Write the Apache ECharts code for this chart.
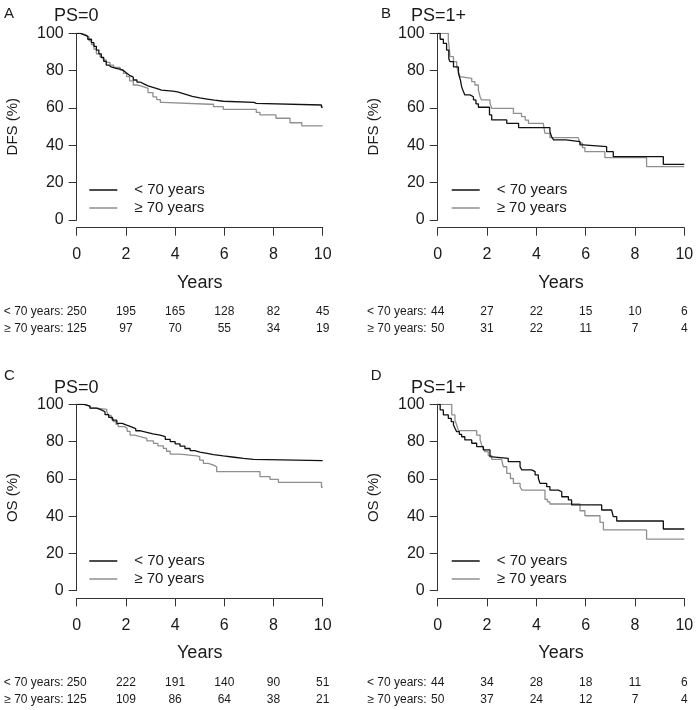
<!DOCTYPE html>
<html>
<head>
<meta charset="utf-8">
<script src="https://cdn.jsdelivr.net/npm/echarts@6/dist/echarts.min.js"></script>
<style>
html,body{margin:0;padding:0;background:#fff;}
#chart{width:700px;height:710px;}
</style>
</head>
<body>
<div id="chart"></div>
<script>
// ---------- DATA ----------
const xTicks = [0, 2, 4, 6, 8, 10];
const groupNames = ['< 70 years', '≥ 70 years'];
const riskRowLabels = ['< 70 years:', '≥ 70 years:'];

// Panel A: DFS, PS=0  ([years, survival %] — survival drops to value at that time)
const dfsPs0Under70 = [[0,100],[0.15,99.2],[0.3,98.4],[0.45,96.8],[0.6,95],[0.7,93],[0.8,91],[0.9,89],[1.0,87],[1.1,85],[1.2,83],[1.3,82],[1.4,81.2],[1.6,80.8],[1.76,80.4],[1.85,79.5],[1.95,78.5],[2.05,77.5],[2.15,76.5],[2.3,75],[2.45,73.8],[2.6,72.8],[2.75,71.8],[2.9,71],[3.1,70.2],[3.3,69.6],[3.45,69],[3.9,68.6],[4.1,67.8],[4.3,67],[4.5,66.2],[4.7,65.4],[5.0,64.8],[5.3,64.2],[5.6,63.6],[5.96,63],[7.2,62.5],[7.3,61.6],[9.95,60.4],[10,60.4]];
const dfsPs0Over70 = [[0,100],[0.2,99],[0.4,98],[0.5,96],[0.6,94],[0.7,91.5],[0.8,89],[0.95,87.3],[1.08,85.7],[1.2,84.4],[1.35,83],[1.5,81.8],[1.76,80.4],[1.9,78.5],[2.03,76.8],[2.15,74.5],[2.3,72.3],[2.5,71.4],[2.7,70.5],[2.9,68.2],[3.1,66],[3.25,64.5],[3.4,63],[3.5,62],[5.4,62],[5.56,60.7],[5.96,59.3],[7.3,57.6],[7.45,56.3],[8.1,54.5],[8.67,52.1],[9.15,50.4],[10,50.4]];
const dfsPs0Risk = [[250,195,165,128,82,45],[125,97,70,55,34,19]];

// Panel B: DFS, PS=1+
const dfsPs1Under70 = [[0,100],[0.1,96.8],[0.23,94.6],[0.36,91],[0.45,86.4],[0.5,84.8],[0.64,82],[0.84,78.6],[0.92,75],[0.97,71.4],[1.05,68.5],[1.1,67],[1.31,66],[1.45,64.3],[1.55,62.2],[1.65,60.4],[2.1,56.3],[2.19,53.6],[2.8,51.8],[3.28,49.5],[4.55,47.3],[4.62,44.6],[4.7,42.9],[5.2,42],[5.77,40.2],[5.9,39.3],[6.85,36.6],[7.12,33.9],[9.15,29.8],[10,29.8]];
const dfsPs1Over70 = [[0,100],[0.43,96.4],[0.47,92],[0.5,87.5],[0.64,84.8],[0.77,82],[0.85,79],[0.91,76.8],[0.97,75.9],[1.38,74.1],[1.51,72.3],[1.65,69.6],[1.72,66],[1.78,64.3],[2.12,62.5],[2.19,59.8],[3.07,57.1],[3.4,55.4],[3.55,53.5],[3.68,51.8],[4.28,50.9],[4.35,46.4],[4.55,44.1],[5.7,43.2],[5.77,41.1],[5.87,38.8],[5.97,36.6],[6.78,33.4],[8.47,28.6],[10,28.6]];
const dfsPs1Risk = [[44,27,22,15,10,6],[50,31,22,11,7,4]];

// Panel C: OS, PS=0
const osPs0Under70 = [[0,100],[0.3,99],[0.54,97.9],[0.81,97],[1.0,96],[1.15,94.5],[1.3,93],[1.45,91.5],[1.63,89.8],[1.85,88.8],[2.03,88],[2.2,87],[2.4,85.8],[2.6,85],[2.85,84.1],[3.1,83.5],[3.39,82.6],[3.6,81.2],[3.8,80],[4.0,78.8],[4.2,77.6],[4.4,76.3],[4.61,75.1],[4.8,74.3],[5.01,73.7],[5.3,73],[5.56,72.3],[5.96,71.6],[6.4,71],[6.78,70.5],[7.18,69.8],[10,69.8]];
const osPs0Over70 = [[0,100],[0.3,99],[0.54,97.9],[0.81,97.3],[1.22,96],[1.3,94],[1.4,92.3],[1.49,90.7],[1.6,89.2],[1.69,88],[1.96,87.1],[2.05,85.5],[2.17,83.5],[2.35,82.6],[2.57,81.7],[2.85,80.4],[3.12,79],[3.3,77.7],[3.52,76.4],[3.65,74.8],[3.8,73.3],[4.2,72.3],[4.88,71.9],[5.0,70],[5.15,68.3],[5.35,67.4],[5.56,66.5],[5.69,63.9],[7.32,63.9],[7.45,61.2],[7.86,59.7],[8.2,58.1],[9.95,55.5],[10,55.5]];
const osPs0Risk = [[250,222,191,140,90,51],[125,109,86,64,38,21]];

// Panel D: OS, PS=1+
const osPs1Under70 = [[0,100],[0.1,97],[0.23,94.3],[0.43,92.5],[0.55,90.7],[0.64,88.9],[0.7,87.1],[0.77,85.3],[0.88,83.9],[0.97,82.6],[1.1,80.9],[1.38,79.1],[1.58,77.3],[1.85,75.5],[2.12,71.9],[2.19,71],[2.86,69.2],[3.34,66.5],[3.41,64.8],[3.81,63.9],[3.95,62.1],[4.08,60.3],[4.15,57.6],[4.42,55.8],[4.55,54],[4.89,53.1],[5.03,50.4],[5.3,48.7],[5.43,46],[6.65,43.3],[7.05,42.4],[7.12,39.7],[7.26,37.4],[9.15,33.1],[10,33.1]];
const osPs1Over70 = [[0,100],[0.57,94.3],[0.7,91.5],[0.77,88.9],[0.84,85.9],[1.58,83.5],[1.72,80.9],[1.78,78.2],[1.85,76.4],[1.92,74.6],[2.05,72.5],[2.19,70.5],[2.59,70.1],[2.66,66.5],[2.8,62.9],[2.95,60.2],[3.07,57.6],[3.34,55.8],[3.41,54],[4.35,49],[4.45,47.7],[4.55,46.5],[5.77,42.9],[5.97,40.2],[6.58,36.7],[6.72,32.6],[8.47,27.7],[10,27.7]];
const osPs1Risk = [[44,34,28,18,11,6],[50,37,24,12,7,4]];

const panelLetters = ['A', 'B', 'C', 'D'];
const panelTitles = ['PS=0', 'PS=1+', 'PS=0', 'PS=1+'];
const yTitles = ['DFS (%)', 'DFS (%)', 'OS (%)', 'OS (%)'];
const xTitle = 'Years';

// ---------- LAYOUT / STYLE ----------
const FONT = "'Liberation Sans', Arial, Helvetica, sans-serif";
const TXT = '#1a1a1a';
const AXIS = '#333333';
const COLORS = ['#111111', '#8f8f8f'];

const panels = [
  { grid: {left: 76.7, top: 33.3, width: 246, height: 186.7}, curves: [dfsPs0Under70, dfsPs0Over70], risk: dfsPs0Risk,
    letter: {left: 4, top: 6}, title: {left: 54, top: 7}, legend: {left: 89.3, top: 181}, rowRight: 63.5 },
  { grid: {left: 437.7, top: 33.3, width: 246.6, height: 186.7}, curves: [dfsPs1Under70, dfsPs1Over70], risk: dfsPs1Risk,
    letter: {left: 381, top: 6}, title: {left: 411, top: 7}, legend: {left: 451.7, top: 181}, rowRight: 426.7 },
  { grid: {left: 76.7, top: 404.3, width: 246, height: 186.4}, curves: [osPs0Under70, osPs0Over70], risk: osPs0Risk,
    letter: {left: 4, top: 368}, title: {left: 54, top: 379.5}, legend: {left: 89.3, top: 552}, rowRight: 63.5 },
  { grid: {left: 437.7, top: 404.3, width: 246.6, height: 186.4}, curves: [osPs1Under70, osPs1Over70], risk: osPs1Risk,
    letter: {left: 370.7, top: 368}, title: {left: 411, top: 379.5}, legend: {left: 451.7, top: 552}, rowRight: 426.7 }
];

const AXIS_OFFSET = 7.7;
const ROW_OFFSETS = [84, 101.3];

const grid = [], xAxis = [], yAxis = [], series = [], title = [], legend = [], graphic = [];

// main plot grids (indices 0..3)
panels.forEach((p, i) => {
  grid.push(Object.assign({containLabel: false, outerBoundsMode: 'none'}, p.grid));
  xAxis.push({
    gridIndex: i, type: 'value', min: 0, max: 10, interval: 2, offset: AXIS_OFFSET, position: 'bottom',
    axisLine: {show: true, onZero: false, lineStyle: {color: AXIS, width: 1}},
    axisTick: {show: true, length: 8, lineStyle: {color: AXIS, width: 1}},
    axisLabel: {fontSize: 16, color: TXT, fontFamily: FONT, margin: 19, showMinLabel: true, showMaxLabel: true},
    splitLine: {show: false},
    name: xTitle, nameLocation: 'middle', nameGap: 46,
    nameTextStyle: {fontSize: 18, color: TXT, fontFamily: FONT}
  });
  yAxis.push({
    gridIndex: i, type: 'value', min: 0, max: 100, interval: 20,
    axisLine: {show: true, lineStyle: {color: AXIS, width: 1}},
    axisTick: {show: true, length: 8, lineStyle: {color: AXIS, width: 1}},
    axisLabel: {fontSize: 16, color: TXT, fontFamily: FONT, margin: 13},
    splitLine: {show: false},
    name: yTitles[i], nameLocation: 'middle', nameGap: 56,
    nameTextStyle: {fontSize: 15, color: TXT, fontFamily: FONT}
  });
  p.curves.forEach((c, k) => {
    series.push({
      type: 'line', name: groupNames[k], xAxisIndex: i, yAxisIndex: i,
      data: c, step: 'end', symbol: 'none', showSymbol: false,
      lineStyle: {color: COLORS[k], width: 1.3}, itemStyle: {color: COLORS[k]},
      z: 3 - k, animation: false
    });
  });
  title.push({text: panelLetters[i], left: p.letter.left, top: p.letter.top, padding: 0,
    textStyle: {fontSize: 15, fontWeight: 'normal', color: TXT, fontFamily: FONT}});
  title.push({text: panelTitles[i], left: p.title.left, top: p.title.top, padding: 0,
    textStyle: {fontSize: 18, fontWeight: 'normal', color: TXT, fontFamily: FONT}});
  legend.push({
    data: groupNames, orient: 'vertical', left: p.legend.left, top: p.legend.top,
    padding: 0, itemGap: 0, itemWidth: 28, itemHeight: 1.5, icon: 'rect',
    selectedMode: false,
    textStyle: {fontSize: 15, lineHeight: 18, color: TXT, fontFamily: FONT, padding: [0, 0, 0, 12]}
  });
});

// number-at-risk rows: one thin invisible grid per row, labels from its x axis
panels.forEach((p, i) => {
  p.risk.forEach((row, r) => {
    const rowY = p.grid.top + p.grid.height + AXIS_OFFSET + ROW_OFFSETS[r];
    const gi = grid.length;
    grid.push({left: p.grid.left, width: p.grid.width, top: rowY - 1, height: 1,
      containLabel: false, outerBoundsMode: 'none'});
    xAxis.push({
      gridIndex: gi, type: 'value', min: 0, max: 10, interval: 2, position: 'bottom',
      axisLine: {show: false}, axisTick: {show: false}, splitLine: {show: false},
      axisLabel: {fontSize: 12, color: TXT, fontFamily: FONT, margin: 0, verticalAlign: 'middle',
        showMinLabel: true, showMaxLabel: true,
        formatter: v => { const k = xTicks.indexOf(v); return k >= 0 ? String(row[k]) : ''; }}
    });
    yAxis.push({gridIndex: gi, type: 'value', show: false, min: 0, max: 1});
    graphic.push({
      type: 'text', x: p.rowRight, y: rowY,
      style: {text: riskRowLabels[r], align: 'right', verticalAlign: 'middle',
        font: '12px ' + FONT, fill: TXT}
    });
  });
});

const chart = echarts.init(document.getElementById('chart'), null, {renderer: 'canvas'});
chart.setOption({
  backgroundColor: '#ffffff',
  animation: false,
  textStyle: {fontFamily: FONT},
  grid, xAxis, yAxis, series, title, legend, graphic
});
</script>
</body>
</html>
